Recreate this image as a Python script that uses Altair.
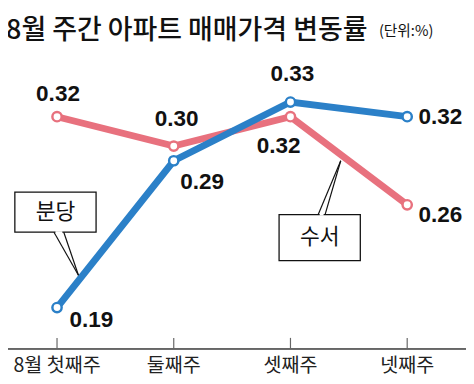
import altair as alt
import pandas as pd

weeks = ["8월 첫째주", "둘째주", "셋째주", "넷째주"]
series_names = ["수서", "분당"]
suseo = [0.32, 0.30, 0.32, 0.26]
bundang = [0.19, 0.29, 0.33, 0.32]
title_main = "8월 주간 아파트 매매가격 변동률"
title_unit = "(단위:%)"

PINK = "#e8717e"
BLUE = "#2b80c8"
W, H = 458, 312
KFONT = "Noto Sans CJK KR"
NFONT = "Liberation Sans"

rows = []
for i, w in enumerate(weeks):
    rows.append({"week": w, "series": "수서", "value": suseo[i], "idx": i})
    rows.append({"week": w, "series": "분당", "value": bundang[i], "idx": i})
df = pd.DataFrame(rows)

xscale = alt.Scale(type="point", padding=0.42)
xenc = alt.X("week:N", sort=weeks, scale=xscale, axis=None)
yenc = alt.Y("value:Q", scale=alt.Scale(domain=[0.162, 0.37], zero=False, nice=False), axis=None)

base = alt.Chart(df)

# label offsets (style): (series, idx) -> (dx, dy)
offsets = {
    ("수서", 0): (1, -23), ("수서", 1): (3, -27), ("수서", 2): (-12, 30), ("수서", 3): (34, 11),
    ("분당", 0): (35, 13), ("분당", 1): (29, 22), ("분당", 2): (2, -28), ("분당", 3): (34, 0),
}

wdf = pd.DataFrame({"week": weeks})
layers = []
# baseline (axis domain)
layers.append(alt.Chart(wdf).mark_rule(color="#666", strokeWidth=1.5).encode(
    x=alt.value(-10), x2=alt.value(W + 20), y=alt.value(H), y2=alt.value(H)))
# tick marks going up from axis
layers.append(alt.Chart(wdf).mark_rule(color="#666", strokeWidth=1.2).encode(
    x=xenc, y=alt.value(H - 11), y2=alt.value(H)))
# axis labels
layers.append(alt.Chart(wdf).mark_text(font=KFONT, fontSize=20, color="#222",
                                        align="center", baseline="middle").encode(
    x=xenc, y=alt.value(H + 18), text="week:N"))

for name, col in (("수서", PINK), ("분당", BLUE)):
    sub = base.transform_filter(alt.datum.series == name)
    layers.append(sub.mark_line(color=col, strokeWidth=7).encode(x=xenc, y=yenc))
    layers.append(sub.mark_point(filled=True, fill="white", stroke=col, strokeWidth=2.5,
                                 size=90, opacity=1).encode(x=xenc, y=yenc))

for (name, i), (dx, dy) in offsets.items():
    layers.append(base.transform_filter((alt.datum.series == name) & (alt.datum.idx == i))
                  .mark_text(font=NFONT, fontSize=23, fontWeight="bold", color="#111",
                             dx=dx, dy=dy, align="center", baseline="middle")
                  .encode(x=xenc, y=yenc, text=alt.Text("value:Q", format=".2f")))

# callouts
ann = pd.DataFrame({"t": series_names})
def box(name, x1, x2, y1, y2, px1, px2, tipx, tipy, pointer_up):
    d = alt.Chart(ann).transform_filter(alt.datum.t == name)
    out = []
    py = y2 if not pointer_up else y1
    out.append(d.mark_rect(fill="white", stroke="#111", strokeWidth=1.3).encode(
        x=alt.value(x1), x2=alt.value(x2), y=alt.value(y1), y2=alt.value(y2)))
    out.append(d.mark_rule(color="#111", strokeWidth=1.2).encode(
        x=alt.value(px1), y=alt.value(py), x2=alt.value(tipx), y2=alt.value(tipy)))
    out.append(d.mark_rule(color="#111", strokeWidth=1.2).encode(
        x=alt.value(px2), y=alt.value(py), x2=alt.value(tipx), y2=alt.value(tipy)))
    out.append(d.mark_rule(color="white", strokeWidth=2).encode(
        x=alt.value(px1 + 1.5), x2=alt.value(px2 - 1.5), y=alt.value(py), y2=alt.value(py)))
    out.append(d.mark_text(font=KFONT, fontSize=22, color="#111", align="center",
                           baseline="middle").encode(
        x=alt.value((x1 + x2) / 2), y=alt.value((y1 + y2) / 2), text="t:N"))
    return out

layers += box("분당", 7, 90, 152, 193, 47, 57, 72, 237, False)
layers += box("수서", 277, 360, 175, 222, 317, 324, 340, 120, True)

# title
tdf = pd.DataFrame({"a": [title_main], "b": [title_unit]})
layers.append(alt.Chart(tdf).mark_text(font=KFONT, fontSize=27.5, fontWeight=500, color="#111",
                                        align="left", baseline="alphabetic").encode(
    x=alt.value(-2), y=alt.value(-4), text="a:N"))
layers.append(alt.Chart(tdf).mark_text(font=KFONT, fontSize=15, color="#111", align="left",
                                        baseline="alphabetic").encode(
    x=alt.value(379), y=alt.value(-7), text="b:N"))

chart = alt.layer(*layers).properties(
    width=W, height=H,
    autosize=alt.AutoSizeParams(type="none"),
    padding={"left": 0, "top": 32, "right": 10, "bottom": 30},
    background="white",
).configure_view(stroke=None)

chart.save("out.html", embed_options={"renderer": "svg", "actions": False})
